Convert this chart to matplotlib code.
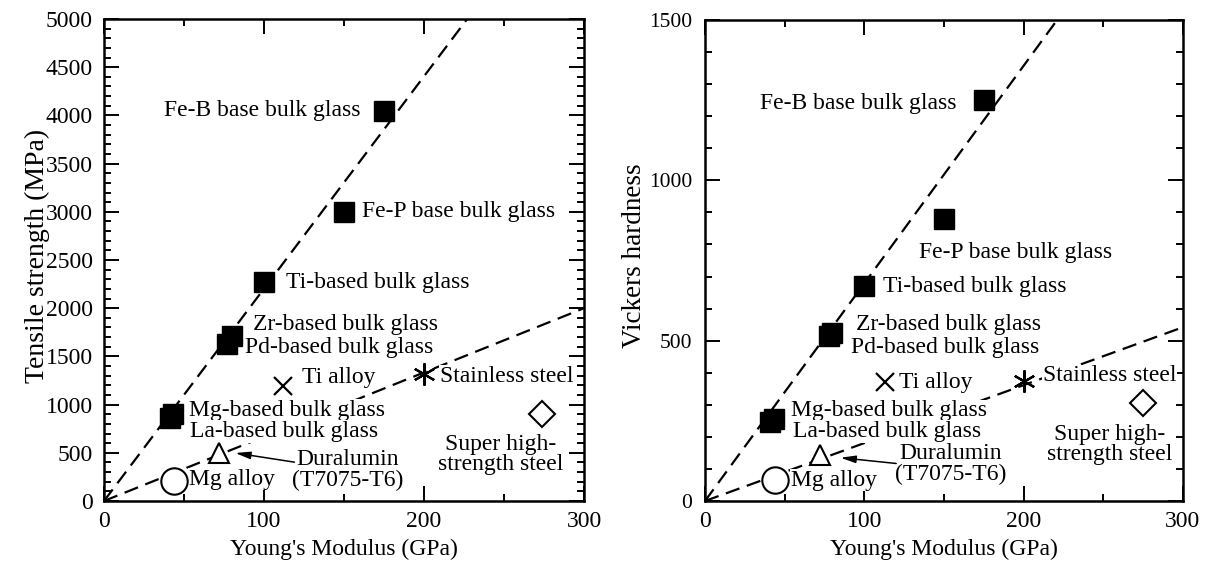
import matplotlib.pyplot as plt
from matplotlib.ticker import MultipleLocator

plt.rcParams['font.family'] = ['Liberation Serif', 'DejaVu Serif']

# --- tensile strength vs Young's modulus ---
glass_names = ['Fe-B base bulk glass', 'Fe-P base bulk glass', 'Ti-based bulk glass',
               'Zr-based bulk glass', 'Pd-based bulk glass', 'Mg-based bulk glass',
               'La-based bulk glass']
glass_E = [175, 150, 100, 80, 77, 43, 41]
glass_ts = [4050, 3000, 2270, 1710, 1630, 900, 860]

alloy_names = ['Ti alloy', 'Stainless steel', 'Super high-\nstrength steel',
               'Duralumin\n(T7075-T6)', 'Mg alloy']
alloy_E = [112, 200, 274, 72, 44]
alloy_ts = [1190, 1320, 900, 500, 210]

# --- Vickers hardness vs Young's modulus ---
glass_E_hv = [175, 150, 100, 80, 78, 43, 41]
glass_hv = [1250, 880, 670, 525, 515, 255, 245]
alloy_E_hv = [113, 200, 275, 72, 44]
alloy_hv = [370, 375, 305, 145, 65]

# guide lines through the origin (end points)
ts_upper = ([0, 227], [0, 5000])
ts_lower = ([0, 300], [0, 2000])
hv_upper = ([0, 221], [0, 1500])
hv_lower = ([0, 300], [0, 542])

# label anchors: (x, y, ha)
ts_glass_lbl = [(160, 4050, 'right'), (161, 3000, 'left'), (114, 2270, 'left'),
                (93, 1830, 'left'), (88, 1590, 'left'), (53, 940, 'left'),
                (54, 720, 'left')]
ts_alloy_lbl = [(124, 1280, 'left'), (210, 1290, 'left'), (248, 480, 'center'),
                (152, 320, 'center'), (53, 228, 'left')]
hv_glass_lbl = [(158, 1240, 'right'), (134, 775, 'left'), (112, 668, 'left'),
                (95, 549, 'left'), (91.5, 479, 'left'), (54, 281, 'left'),
                (55, 217, 'left')]
hv_alloy_lbl = [(122, 370, 'left'), (212, 390, 'left'), (254, 175, 'center'),
                (154, 115, 'center'), (54, 65, 'left')]

ts_arrow = ((119, 403), (82, 498))
hv_arrow = ((120, 117), (85, 135))

alloy_markers = [dict(marker='x', ms=13, mew=1.6, mfc='none'),
                 dict(marker=(6, 2, 0), ms=16, mew=1.6, mfc='none'),
                 dict(marker='D', ms=13, mew=1.5, mfc='white'),
                 dict(marker='^', ms=15, mew=1.5, mfc='white'),
                 dict(marker='o', ms=19, mew=1.5, mfc='white')]

W, H = 1207, 570
fig = plt.figure(figsize=(W / 100, H / 100), dpi=100)
ax1 = fig.add_axes([104 / W, (H - 501) / H, 480 / W, 482 / H])
ax2 = fig.add_axes([705 / W, (H - 501) / H, 478 / W, 481 / H])

FS = 17
bbox = dict(facecolor='white', edgecolor='none', pad=0.5)


def draw(ax, gE, gY, aE, aY, upper, lower, glbl, albl, arrow):
    for line in (upper, lower):
        ax.plot(line[0], line[1], color='k', lw=1.6, dashes=(6.5, 3.5), zorder=2)
    ax.plot(gE, gY, ls='none', marker='s', ms=15, color='k', zorder=5)
    for x, y, m in zip(aE, aY, alloy_markers):
        ax.plot([x], [y], ls='none', color='k', zorder=5, **m)
    for name, (x, y, ha) in zip(glass_names, glbl):
        ax.text(x, y, name, ha=ha, va='center', fontsize=FS, bbox=bbox, zorder=3)
    for name, (x, y, ha) in zip(alloy_names, albl):
        ax.text(x, y, name, ha=ha, va='center', fontsize=FS, bbox=bbox,
                zorder=3, linespacing=0.95, multialignment='center')
    ax.annotate('', xy=arrow[1], xytext=arrow[0],
                arrowprops=dict(arrowstyle='-|>,head_length=0.9,head_width=0.22',
                                color='k', lw=1.1, shrinkA=0, shrinkB=0), zorder=6)
    ax.set_xlim(0, 300)
    ax.xaxis.set_major_locator(MultipleLocator(100))
    ax.xaxis.set_minor_locator(MultipleLocator(50))
    ax.yaxis.set_major_locator(MultipleLocator(500))
    ax.yaxis.set_minor_locator(MultipleLocator(100))
    ax.tick_params(which='both', direction='in', top=True, right=True, width=1.4)
    ax.tick_params(which='major', length=11)
    ax.tick_params(which='minor', length=5)
    ax.tick_params(axis='x', labelsize=17, pad=7)
    for s in ax.spines.values():
        s.set_linewidth(1.8)
    ax.set_xlabel("Young's Modulus (GPa)", fontsize=17, labelpad=5)


draw(ax1, glass_E, glass_ts, alloy_E, alloy_ts, ts_upper, ts_lower,
     ts_glass_lbl, ts_alloy_lbl, ts_arrow)
ax1.set_ylim(0, 5000)
ax1.tick_params(axis='y', labelsize=17, pad=8)
ax1.set_ylabel('Tensile strength (MPa)', fontsize=20)
ax1.yaxis.set_label_coords(-0.112, 0.508)

draw(ax2, glass_E_hv, glass_hv, alloy_E_hv, alloy_hv, hv_upper, hv_lower,
     hv_glass_lbl, hv_alloy_lbl, hv_arrow)
ax2.set_ylim(0, 1500)
ax2.tick_params(axis='y', labelsize=15.5, pad=9)
ax2.set_ylabel('Vickers hardness', fontsize=19.5)
ax2.yaxis.set_label_coords(-0.121, 0.51)

fig.savefig('out.png', dpi=100)
